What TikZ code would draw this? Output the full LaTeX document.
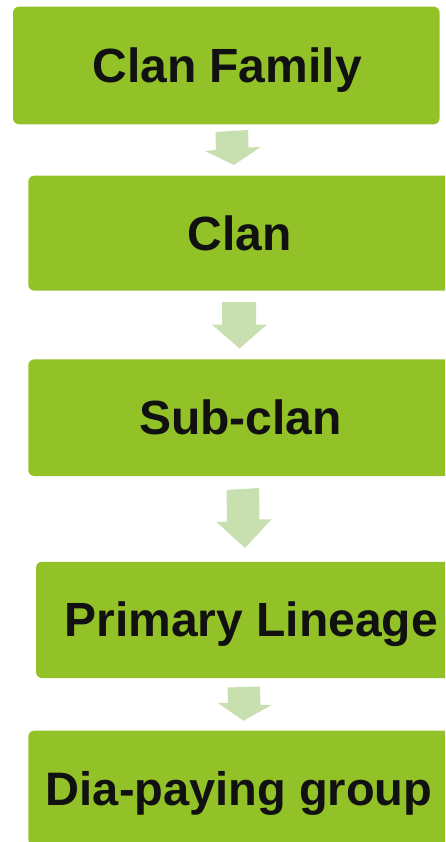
\documentclass[tikz,border=0pt]{standalone}
\usepackage{fontspec}
\setmainfont{Liberation Sans}
\definecolor{boxgreen}{RGB}{146,194,40}
\definecolor{arrowgreen}{RGB}{200,223,176}
\definecolor{textblack}{RGB}{17,17,17}
\begin{document}
\begin{tikzpicture}[x=1pt,y=-1pt,
  levelbox/.style={fill=boxgreen, draw=none, rounded corners=6pt, inner sep=0pt,
    text=textblack, font=\bfseries\fontsize{48}{48}\selectfont,
    text height=34pt, text depth=0pt, anchor=center},
  blockarrow/.style={fill=arrowgreen, draw=none}]
\useasboundingbox (0,0) rectangle (445,842);
\clip (0,0) rectangle (445,842);
% boxes (centre x, centre y; width, height)
\node[levelbox, minimum width=426.6pt, minimum height=117.6pt] (fam) at (226.3,65.5) {\hspace*{1.5pt}Clan Family};
\node[levelbox, minimum width=422.8pt, minimum height=115pt] (clan) at (239.7,233.2) {Clan};
\node[levelbox, minimum width=424.4pt, minimum height=116.7pt] (sub) at (240.5,417.7) {Sub-clan};
\node[levelbox, minimum width=430.6pt, minimum height=116.3pt] (prim) at (251.3,619.9) {Primary Lineage};
\node[levelbox, minimum width=421.8pt, minimum height=115.2pt, font=\bfseries\fontsize{47}{47}\selectfont] (dia) at (239.2,788.3) {Dia-paying group};
% block arrows
\fill[blockarrow] (215.5,132) -- (248,130) -- (248.5,147.5) -- (260.5,147) -- (234,165) -- (205,151) -- (216,150) -- cycle;
\fill[blockarrow] (222,302) -- (256,302) -- (256,324.5) -- (267,324.5) -- (239.5,348.5) -- (212,324.5) -- (222,324.5) -- cycle;
\fill[blockarrow] (226.5,490) -- (259,488) -- (259.5,519.5) -- (271.5,519.3) -- (245,548) -- (216.5,522) -- (227,521.5) -- cycle;
\fill[blockarrow] (227.5,687.5) -- (260,686.5) -- (260.5,704.8) -- (271.5,705) -- (243.5,720.7) -- (217.5,702.7) -- (228,703) -- cycle;
\end{tikzpicture}
\end{document}
